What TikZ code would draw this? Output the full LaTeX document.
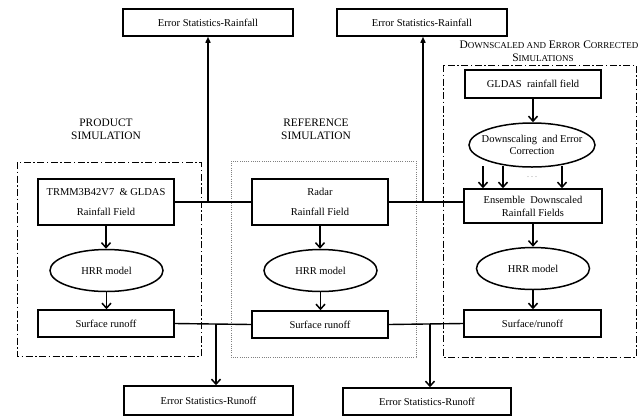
\documentclass[tikz,border=0pt]{standalone}
\usepackage{fontspec}
\setmainfont{Liberation Serif}
\usetikzlibrary{arrows.meta,shapes.geometric,calc}
\newcommand{\capBig}[1]{{\fontsize{11.5}{13}\selectfont #1}}
\newcommand{\capSmall}[1]{{\fontsize{9}{13}\selectfont #1}}
\begin{document}
\begin{tikzpicture}[x=1pt,y=-1pt,
 box/.style={draw,line width=1.5pt,inner sep=0pt,align=center,font=\fontsize{10.5}{20}\selectfont},
 ell/.style={draw,ellipse,line width=1.5pt,inner sep=0pt,align=center,minimum width=113pt,minimum height=42pt,font=\fontsize{10.5}{12.5}\selectfont},
 lbl/.style={align=center,inner sep=0pt,font=\fontsize{10.5}{12.5}\selectfont},
 arr/.style={line width=1.5pt,-{Straight Barb[length=5pt,width=9pt]}},
 uparr/.style={line width=1.4pt,-{Triangle[length=6pt,width=5pt]}},
 con/.style={line width=1.4pt},
 frame/.style={line width=0.7pt,dash pattern=on 7pt off 2.5pt on 1.5pt off 2.5pt},
 dotframe/.style={line width=0.6pt,gray,dash pattern=on 1pt off 1.2pt},
 ttl/.style={align=center,inner sep=0pt,font=\fontsize{11.4}{13.5}\selectfont}]
\useasboundingbox (0,0) rectangle (643,416);

% frames
\draw[frame] (17,162) rectangle (201,356);
\draw[dotframe] (231,161) rectangle (416,357);
\draw[frame] (443,65) rectangle (636,357);

% titles
\node[ttl] (pt) at (106,129.5) {PRODUCT\\SIMULATION};
\node[ttl] (rt) at (316,129.5) {REFERENCE\\SIMULATION};
\node[ttl] (dt1) at (549,45) {\capBig{D}\capSmall{OWNSCALED AND} \capBig{E}\capSmall{RROR} \capBig{C}\capSmall{ORRECTED}};
\node[ttl] (dt2) at (543,58) {\capBig{S}\capSmall{IMULATIONS}};

% boxes
\node[box,minimum width=170pt,minimum height=27pt] (er1) at (208,22.5) {Error Statistics-Rainfall};
\node[box,minimum width=170pt,minimum height=27pt] (er2) at (422,22.5) {Error Statistics-Rainfall};
\node[box,minimum width=136pt,minimum height=46pt] (trmm) at (106,202) {TRMM3B42V7\ \ \& GLDAS\\Rainfall Field};
\node[box,minimum width=136pt,minimum height=46pt] (radar) at (320,202) {Radar\\Rainfall Field};
\node[box,minimum width=136pt,minimum height=28pt] (gldas) at (533,84) {GLDAS\ \ rainfall field};
\node[box,minimum width=138pt,minimum height=34pt,font=\fontsize{10.5}{13}\selectfont] (ens) at (533,206) {Ensemble\ \ Downscaled\\Rainfall Fields};
\node[ell,minimum width=126pt,minimum height=44pt,label={[lbl]center:{Downscaling\ \ and Error\\Correction}}] (ds) at (532,145) {};

\node[ell] (h1) at (106.5,270.5) {HRR model};
\node[ell] (h2) at (320.5,270.5) {HRR model};
\node[ell] (h3) at (533,268.5) {HRR model};

\node[box,minimum width=136pt,minimum height=27pt] (s1) at (106,323.5) {Surface runoff};
\node[box,minimum width=136pt,minimum height=27pt] (s2) at (320,324.5) {Surface runoff};
\node[box,minimum width=137pt,minimum height=27pt] (s3) at (532.5,323.5) {Surface/runoff};

\node[box,minimum width=169pt,minimum height=29pt] (r1) at (208.5,400.5) {Error Statistics-Runoff};
\node[box,minimum width=168pt,minimum height=27pt] (r2) at (427,401.5) {Error Statistics-Runoff};

% vertical flow arrows
\draw[arr] (trmm.south) -- (trmm.south |- h1.north);
\draw[arr] (h1.south) -- (h1.south |- s1.north);
\draw[arr] (radar.south) -- (radar.south |- h2.north);
\draw[arr] (h2.south) -- (h2.south |- s2.north);
\draw[arr] (gldas.south) -- (gldas.south |- ds.north);
\draw[arr] (ens.south) -- (ens.south |- h3.north);
\draw[arr] (h3.south) -- (h3.south |- s3.north);

% ensemble arrows
\coordinate (a1) at (483,166);
\coordinate (a2) at (503,166);
\coordinate (a3) at (562,166);
\draw[arr] (a1) -- (a1 |- ens.north);
\draw[arr] (a2) -- (a2 |- ens.north);
\draw[arr] (a3) -- (a3 |- ens.north);
\node[inner sep=0pt,font=\fontsize{8}{8}\selectfont,text=gray] (dots) at (532,177) {.\ .\ .};

% rainfall connectors
\draw[con] (trmm.east) -- (radar.west);
\draw[uparr] (trmm.east -| er1.south) -- (er1.south);
\draw[con] (radar.east) -- (radar.east -| ens.west);
\draw[uparr] ($(radar.east -| er2.south)+(1,0)$) -- ($(er2.south)+(1,0)$);

% runoff connectors
\draw[con] (s1.east) -- (s2.west);
\coordinate (j3) at (216,324);
\draw[arr] (j3) -- (j3 |- r1.north);
\draw[con] (s2.east) -- (s3.west);
\coordinate (j4) at (430,324);
\draw[arr] (j4) -- (j4 |- r2.north);
\end{tikzpicture}
\end{document}
